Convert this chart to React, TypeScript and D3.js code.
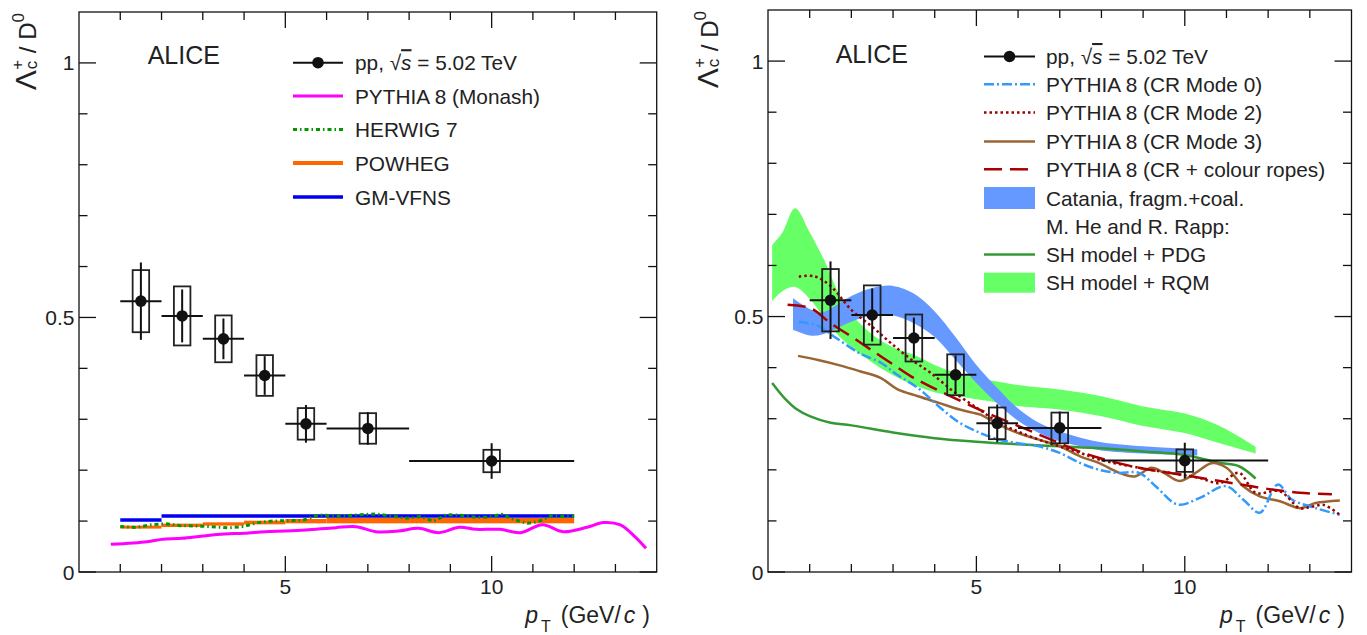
import React from 'react';
import * as d3 from 'd3';

// ---------------- data ----------------
const ptCenters = [1.5, 2.5, 3.5, 4.5, 5.5, 7, 10];
const ptLow = [1, 2, 3, 4, 5, 6, 8];
const ptHigh = [2, 3, 4, 5, 6, 8, 12];
const ratio = [0.532, 0.503, 0.458, 0.386, 0.291, 0.282, 0.218];
const statErr = [0.076, 0.052, 0.04, 0.038, 0.037, 0.032, 0.035];
const systErr = [0.061, 0.058, 0.046, 0.04, 0.031, 0.03, 0.022];
const systHalfWidth = 0.2;

// left panel models
const monashPt = [0.77, 1.65, 2.0, 2.5, 3.0, 3.53, 4.0, 4.51, 5.0, 5.5, 6.22, 6.71, 7.2, 7.74, 8.23, 8.72, 9.22, 9.62, 10.2, 10.7, 11.23, 11.73, 12.31, 12.71, 13.12, 13.47, 13.74];
const monashVal = [0.0544, 0.0596, 0.0641, 0.0661, 0.0707, 0.0747, 0.076, 0.0792, 0.0805, 0.0825, 0.0871, 0.0891, 0.0792, 0.0805, 0.0858, 0.0773, 0.0878, 0.0838, 0.0838, 0.0773, 0.093, 0.0792, 0.0878, 0.097, 0.0924, 0.0694, 0.0465];

const herwigPt = [1.0, 1.38, 1.73, 2.09, 2.45, 2.81, 3.17, 3.62, 3.97, 4.33, 4.69, 5.05, 5.41, 5.81, 6.3, 6.84, 7.2, 7.56, 7.92, 8.28, 8.59, 8.9, 9.26, 9.62, 9.89, 10.25, 10.56, 10.87, 11.14, 11.46, 11.68, 12.0];
const herwigVal = [0.0892, 0.0873, 0.0924, 0.095, 0.091, 0.0905, 0.0892, 0.0866, 0.0892, 0.097, 0.1002, 0.1008, 0.1015, 0.112, 0.11, 0.1127, 0.114, 0.11, 0.1054, 0.1088, 0.0995, 0.1127, 0.1114, 0.1075, 0.1075, 0.1133, 0.1022, 0.0956, 0.0995, 0.1107, 0.1088, 0.11];

const powhegEdges = [1, 2, 3, 4, 5, 6, 8, 12];
const powhegLow = [0.0852, 0.0884, 0.0911, 0.0936, 0.0956, 0.0956, 0.0956];
const powhegHigh = [0.0911, 0.095, 0.0976, 0.1008, 0.1041, 0.1061, 0.1061];

const gmvfnsEdges = [1, 2, 12];
const gmvfnsVal = [0.102, 0.11];

// right panel models
const mode0Pt = [0.74, 1.2, 1.6, 2.2, 2.7, 3.1, 3.6, 4.1, 4.6, 5.1, 5.55, 6.0, 6.5, 7.0, 7.5, 7.95, 8.4, 8.9, 9.3, 9.83, 10.36, 10.98, 11.4, 11.8, 12.23, 12.57, 13.14, 13.72];
const mode0Val = [0.49, 0.482, 0.46, 0.428, 0.41, 0.386, 0.36, 0.324, 0.292, 0.272, 0.259, 0.252, 0.246, 0.233, 0.213, 0.2, 0.194, 0.194, 0.168, 0.132, 0.145, 0.168, 0.142, 0.116, 0.171, 0.142, 0.125, 0.112];

const mode2Pt = [0.74, 1.1, 1.5, 2.0, 2.5, 2.95, 3.45, 3.9, 4.5, 5.07, 5.55, 6.0, 6.5, 7.0, 7.5, 7.95, 8.9, 9.87, 10.36, 10.84, 11.3, 11.7, 12.28, 12.76, 13.05, 13.34, 13.72];
const mode2Val = [0.578, 0.579, 0.56, 0.513, 0.48, 0.448, 0.415, 0.39, 0.35, 0.318, 0.292, 0.275, 0.259, 0.246, 0.233, 0.22, 0.204, 0.191, 0.184, 0.174, 0.194, 0.155, 0.158, 0.125, 0.128, 0.131, 0.112];

const mode3Pt = [0.72, 1.2, 1.7, 2.2, 2.7, 3.1, 3.6, 4.1, 4.6, 4.9, 5.1, 5.5, 6.0, 6.5, 7.0, 7.5, 7.95, 8.4, 8.8, 9.2, 9.5, 9.87, 10.26, 10.64, 11.0, 11.4, 11.8, 12.3, 12.76, 13.14, 13.72];
const mode3Val = [0.423, 0.415, 0.405, 0.393, 0.38, 0.358, 0.344, 0.331, 0.318, 0.312, 0.308, 0.29, 0.272, 0.259, 0.246, 0.226, 0.213, 0.195, 0.187, 0.204, 0.194, 0.178, 0.194, 0.213, 0.204, 0.168, 0.148, 0.138, 0.125, 0.135, 0.14];

const ropesPt = [0.47, 1.03, 1.5, 2.0, 2.47, 2.95, 3.43, 3.9, 4.49, 5.07, 5.55, 6.03, 6.5, 7.0, 7.47, 7.95, 8.9, 9.87, 10.84, 11.8, 12.76, 13.53];
const ropesVal = [0.523, 0.516, 0.487, 0.461, 0.435, 0.409, 0.383, 0.363, 0.34, 0.318, 0.301, 0.285, 0.269, 0.252, 0.236, 0.223, 0.204, 0.191, 0.178, 0.165, 0.155, 0.152];

const cataniaPt = [0.6, 1.0, 1.3, 1.6, 2.0, 2.5, 3.0, 3.5, 4.0, 4.5, 5.0, 5.5, 6.0, 6.5, 7.0, 7.5, 8.0, 9.0, 10.3];
const cataniaHigh = [0.536, 0.515, 0.508, 0.52, 0.54, 0.556, 0.56, 0.545, 0.51, 0.46, 0.405, 0.36, 0.32, 0.292, 0.275, 0.263, 0.254, 0.246, 0.24];
const cataniaLow = [0.474, 0.463, 0.465, 0.475, 0.49, 0.502, 0.502, 0.487, 0.46, 0.415, 0.37, 0.33, 0.296, 0.272, 0.256, 0.246, 0.238, 0.232, 0.228];

const rqmPt = [0.1, 0.35, 0.65, 1.0, 1.35, 1.7, 2.0, 2.5, 3.0, 3.5, 4.0, 4.5, 5.0, 5.5, 6.0, 7.0, 8.0, 9.0, 10.0, 10.8, 11.7];
const rqmHigh = [0.64, 0.665, 0.712, 0.665, 0.61, 0.545, 0.505, 0.465, 0.44, 0.425, 0.405, 0.39, 0.38, 0.373, 0.366, 0.357, 0.344, 0.324, 0.31, 0.287, 0.245];
const rqmLow = [0.53, 0.55, 0.558, 0.535, 0.497, 0.462, 0.44, 0.41, 0.385, 0.366, 0.352, 0.345, 0.338, 0.332, 0.325, 0.318, 0.305, 0.286, 0.272, 0.253, 0.232];

const pdgPt = [0.1, 0.4, 0.7, 1.0, 1.5, 2.0, 3.0, 4.0, 5.0, 6.0, 7.0, 8.0, 9.0, 10.0, 10.8, 11.3, 11.7];
const pdgVal = [0.37, 0.34, 0.318, 0.305, 0.292, 0.287, 0.273, 0.262, 0.255, 0.25, 0.246, 0.242, 0.236, 0.229, 0.214, 0.207, 0.183];

const xTickMajor = [5, 10];
const xTickMinor = [1, 2, 3, 4, 6, 7, 8, 9, 11, 12, 13];
const yTickMajor = [0, 0.5, 1];
const yTickLabels = ['0', '0.5', '1'];
const yTickMinor = [0.1, 0.2, 0.3, 0.4, 0.6, 0.7, 0.8, 0.9];

const leftLegend = ['PYTHIA 8 (Monash)', 'HERWIG 7', 'POWHEG', 'GM-VFNS'];
const rightLegend = [
  'PYTHIA 8 (CR Mode 0)',
  'PYTHIA 8 (CR Mode 2)',
  'PYTHIA 8 (CR Mode 3)',
  'PYTHIA 8 (CR + colour ropes)',
  'Catania, fragm.+coal.',
  'M. He and R. Rapp:',
  'SH model + PDG',
  'SH model + RQM',
];

const FONT = "'Liberation Sans', Arial, Helvetica, sans-serif";
const LEG_FS = 20.8;

type Cfg = { left: number; right: number; top: number; bottom: number; titleX: number };

const zip = (a: number[], b: number[]) => a.map((v, i) => [v, b[i]] as [number, number]);

function Frame({ cfg, x, y }: { cfg: Cfg; x: d3.ScaleLinear<number, number>; y: d3.ScaleLinear<number, number> }) {
  const els: React.ReactNode[] = [];
  xTickMajor.forEach((t, i) => {
    els.push(<line key={'xM' + i} x1={x(t)} x2={x(t)} y1={cfg.bottom} y2={cfg.bottom - 16} />);
    els.push(<line key={'xMt' + i} x1={x(t)} x2={x(t)} y1={cfg.top} y2={cfg.top + 16} />);
    els.push(
      <text key={'xl' + i} x={x(t)} y={593.5} textAnchor="middle" fontSize={21} stroke="none" fill="#222">
        {t}
      </text>
    );
  });
  xTickMinor.forEach((t, i) => {
    els.push(<line key={'xm' + i} x1={x(t)} x2={x(t)} y1={cfg.bottom} y2={cfg.bottom - 8} />);
    els.push(<line key={'xmt' + i} x1={x(t)} x2={x(t)} y1={cfg.top} y2={cfg.top + 8} />);
  });
  yTickMajor.forEach((t, i) => {
    els.push(<line key={'yM' + i} x1={cfg.left} x2={cfg.left + 17} y1={y(t)} y2={y(t)} />);
    els.push(<line key={'yMr' + i} x1={cfg.right} x2={cfg.right - 17} y1={y(t)} y2={y(t)} />);
    els.push(
      <text key={'yl' + i} x={cfg.left - 4.5} y={y(t) + 7.5} textAnchor="end" fontSize={21} stroke="none" fill="#222">
        {yTickLabels[i]}
      </text>
    );
  });
  yTickMinor.forEach((t, i) => {
    els.push(<line key={'ym' + i} x1={cfg.left} x2={cfg.left + 8.5} y1={y(t)} y2={y(t)} />);
    els.push(<line key={'ymr' + i} x1={cfg.right} x2={cfg.right - 8.5} y1={y(t)} y2={y(t)} />);
  });
  return (
    <g stroke="#111" strokeWidth={1.3} fontFamily={FONT}>
      <rect x={cfg.left} y={cfg.top} width={cfg.right - cfg.left} height={cfg.bottom - cfg.top} fill="none" />
      {els}
      <text
        transform={`translate(${cfg.titleX},${cfg.top + 1}) rotate(-90)`}
        textAnchor="end"
        fontSize={24}
        stroke="none"
        fill="#222"
      >
        <tspan fontSize={30}>Λ</tspan>
        <tspan fontSize={17} dx={1} dy={1}>c</tspan>
        <tspan fontSize={17} dx={-9} dy={-14}>+</tspan>
        <tspan dy={13}> / D</tspan>
        <tspan fontSize={17} dy={-12}>0</tspan>
      </text>
      <text x={cfg.right - 131.5} y={623} fontSize={23} stroke="none" fill="#222">
        <tspan fontStyle="italic">p</tspan>
        <tspan fontSize={16} dx={3} dy={9}>T</tspan>
        <tspan dx={10} dy={-9}>(GeV/</tspan>
        <tspan fontStyle="italic" dx={3}>c</tspan>
        <tspan dx={7}>)</tspan>
      </text>
    </g>
  );
}

function DataPoints({ x, y }: { x: d3.ScaleLinear<number, number>; y: d3.ScaleLinear<number, number> }) {
  return (
    <g>
      {ptCenters.map((pt, i) => (
        <g key={i}>
          <rect
            x={x(pt - systHalfWidth)}
            y={y(ratio[i] + systErr[i])}
            width={x(pt + systHalfWidth) - x(pt - systHalfWidth)}
            height={y(ratio[i] - systErr[i]) - y(ratio[i] + systErr[i])}
            fill="none"
            stroke="#222"
            strokeWidth={1.8}
          />
          <line x1={x(ptLow[i])} x2={x(ptHigh[i])} y1={y(ratio[i])} y2={y(ratio[i])} stroke="#111" strokeWidth={2} />
          <line x1={x(pt)} x2={x(pt)} y1={y(ratio[i] - statErr[i])} y2={y(ratio[i] + statErr[i])} stroke="#111" strokeWidth={2} />
          <circle cx={x(pt)} cy={y(ratio[i])} r={5.8} fill="#111" />
        </g>
      ))}
    </g>
  );
}

function PPLegend({ lx1, lx2, tx, cy }: { lx1: number; lx2: number; tx: number; cy: number }) {
  return (
    <g>
      <line x1={lx1} x2={lx2} y1={cy} y2={cy} stroke="#111" strokeWidth={2} />
      <circle cx={(lx1 + lx2) / 2} cy={cy} r={5.8} fill="#111" />
      <text x={tx} y={cy + 7.5} fontSize={LEG_FS} fontFamily={FONT} fill="#222">
        <tspan>pp, √</tspan>
        <tspan fontStyle="italic" style={{ textDecoration: 'overline' }}>s</tspan>
        <tspan> = 5.02 TeV</tspan>
      </text>
    </g>
  );
}

function LeftPanel() {
  const cfg: Cfg = { left: 79, right: 656.7, top: 12, bottom: 572, titleX: 36 };
  const x = d3.scaleLinear().domain([0, 14]).range([cfg.left, cfg.right]);
  const y = d3.scaleLinear().domain([0, 1.1]).range([cfg.bottom, cfg.top]);
  const smooth = d3.line<[number, number]>().x((d) => x(d[0])).y((d) => y(d[1])).curve(d3.curveCatmullRom.alpha(0.5));
  const rows = [62.7, 96, 129.5, 163, 197];
  const lx1 = 293, lx2 = 343, tx = 355;
  return (
    <g>
      {powhegLow.map((lo, i) => (
        <rect
          key={'pw' + i}
          x={x(powhegEdges[i])}
          width={x(powhegEdges[i + 1]) - x(powhegEdges[i])}
          y={y(powhegHigh[i])}
          height={y(lo) - y(powhegHigh[i])}
          fill="#ff6600"
        />
      ))}
      {gmvfnsVal.map((v, i) => (
        <line key={'gm' + i} x1={x(gmvfnsEdges[i])} x2={x(gmvfnsEdges[i + 1])} y1={y(v)} y2={y(v)} stroke="#0000ee" strokeWidth={3.5} />
      ))}
      <path d={smooth(zip(monashPt, monashVal)) || ''} fill="none" stroke="#ff00ff" strokeWidth={3} />
      <path d={d3.line<[number, number]>().x((d) => x(d[0])).y((d) => y(d[1]))(zip(herwigPt, herwigVal)) || ''} fill="none" stroke="#009900" strokeWidth={3} strokeDasharray="4 3 1.5 3" />
      <DataPoints x={x} y={y} />
      <Frame cfg={cfg} x={x} y={y} />
      <text x={147.7} y={64} fontSize={25} fontFamily={FONT} fill="#222">ALICE</text>
      <PPLegend lx1={lx1} lx2={lx2} tx={tx} cy={rows[0]} />
      <line x1={lx1} x2={lx2} y1={rows[1]} y2={rows[1]} stroke="#ff00ff" strokeWidth={3} />
      <line x1={lx1} x2={lx2} y1={rows[2]} y2={rows[2]} stroke="#009900" strokeWidth={3} strokeDasharray="4 3 1.5 3" />
      <line x1={lx1} x2={lx2} y1={rows[3]} y2={rows[3]} stroke="#ff6600" strokeWidth={4} />
      <line x1={lx1} x2={lx2} y1={rows[4]} y2={rows[4]} stroke="#0000ee" strokeWidth={3.5} />
      {leftLegend.map((t, i) => (
        <text key={'lt' + i} x={tx} y={rows[i + 1] + 7.5} fontSize={LEG_FS} fontFamily={FONT} fill="#222">{t}</text>
      ))}
    </g>
  );
}

function RightPanel() {
  const cfg: Cfg = { left: 768, right: 1351.5, top: 10, bottom: 572, titleX: 718 };
  const x = d3.scaleLinear().domain([0, 14]).range([cfg.left, cfg.right]);
  const y = d3.scaleLinear().domain([0, 1.1]).range([cfg.bottom, cfg.top]);
  const smooth = d3.line<[number, number]>().x((d) => x(d[0])).y((d) => y(d[1])).curve(d3.curveCatmullRom.alpha(0.5));
  const band = (pt: number[], lo: number[], hi: number[]) =>
    d3
      .area<number>()
      .x((_, i) => x(pt[i]))
      .y0((_, i) => y(lo[i]))
      .y1((_, i) => y(hi[i]))
      .curve(d3.curveCatmullRom.alpha(0.5))(pt) || '';
  const rows = [56.5, 84.3, 112.6, 141.6, 169.3, 198, 226, 254.5, 282.7];
  const lx1 = 984, lx2 = 1035, tx = 1046;
  return (
    <g>
      <path d={band(rqmPt, rqmLow, rqmHigh)} fill="#66ff66" />
      <path d={band(cataniaPt, cataniaLow, cataniaHigh)} fill="#6699ff" />
      <path d={smooth(zip(pdgPt, pdgVal)) || ''} fill="none" stroke="#339933" strokeWidth={2.5} />
      <path d={smooth(zip(mode3Pt, mode3Val)) || ''} fill="none" stroke="#996633" strokeWidth={2.5} />
      <path d={smooth(zip(mode0Pt, mode0Val)) || ''} fill="none" stroke="#3399ff" strokeWidth={2.5} strokeDasharray="10 3 2 3" />
      <path d={smooth(zip(mode2Pt, mode2Val)) || ''} fill="none" stroke="#990000" strokeWidth={2.5} strokeDasharray="2.5 3" />
      <path d={smooth(zip(ropesPt, ropesVal)) || ''} fill="none" stroke="#aa0000" strokeWidth={2.5} strokeDasharray="18 8" />
      <DataPoints x={x} y={y} />
      <Frame cfg={cfg} x={x} y={y} />
      <text x={835.7} y={62.7} fontSize={25} fontFamily={FONT} fill="#222">ALICE</text>
      <PPLegend lx1={lx1} lx2={lx2} tx={tx} cy={rows[0]} />
      <line x1={lx1} x2={lx2} y1={rows[1]} y2={rows[1]} stroke="#3399ff" strokeWidth={2.5} strokeDasharray="10 3 2 3" />
      <line x1={lx1} x2={lx2} y1={rows[2]} y2={rows[2]} stroke="#990000" strokeWidth={2.5} strokeDasharray="2.5 3" />
      <line x1={lx1} x2={lx2} y1={rows[3]} y2={rows[3]} stroke="#996633" strokeWidth={2.5} />
      <line x1={lx1} x2={lx2} y1={rows[4]} y2={rows[4]} stroke="#aa0000" strokeWidth={2.5} strokeDasharray="18 8" />
      <rect x={lx1} y={rows[5] - 11} width={lx2 - lx1} height={22} fill="#6699ff" />
      <line x1={lx1} x2={lx2} y1={rows[7]} y2={rows[7]} stroke="#339933" strokeWidth={2.5} />
      <rect x={lx1} y={rows[8] - 10} width={lx2 - lx1} height={20} fill="#66ff66" />
      {rightLegend.map((t, i) => (
        <text key={'rt' + i} x={tx} y={rows[i + 1] + 7.5} fontSize={LEG_FS} fontFamily={FONT} fill="#222">{t}</text>
      ))}
    </g>
  );
}

export default function App() {
  return (
    <div style={{ position: 'absolute', left: 0, top: 0 }}>
      <svg width={1367} height={635} viewBox="0 0 1367 635" style={{ display: 'block', background: '#fff' }}>
        <LeftPanel />
        <RightPanel />
      </svg>
    </div>
  );
}
